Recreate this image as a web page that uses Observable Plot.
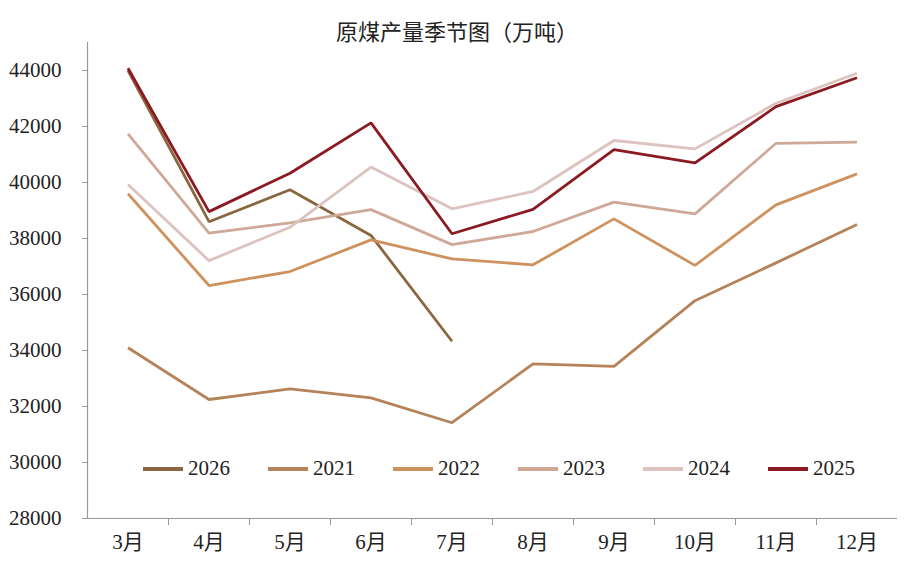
<!DOCTYPE html>
<html>
<head>
<meta charset="utf-8">
<script src="https://cdn.jsdelivr.net/npm/d3@7"></script>
<script src="https://cdn.jsdelivr.net/npm/@observablehq/plot@0.6"></script>
<style>
  body { margin: 0; background: #fff; }
  #wrap { position: relative; width: 914px; height: 581px; }
  #title { height: 40px; line-height: 40px; text-align: center; font-family: "Noto Sans CJK SC", sans-serif; font-size: 22px; color: #222; position: relative; top: 10px; }
  #legend { position: absolute; top: 456px; left: 143px; display: flex; font-family: "Liberation Serif", serif; font-size: 21px; color: #222; }
  .item { display: flex; align-items: center; width: 125px; }
  .sw { width: 40px; height: 4px; margin-right: 5px; }
</style>
</head>
<body>
<div id="wrap">
  <div id="title">原煤产量季节图（万吨）</div>
  <div id="chart"></div>
  <div id="legend"></div>
</div>
<script>
const months = ["3月","4月","5月","6月","7月","8月","9月","10月","11月","12月"];
const yTicks = [28000, 30000, 32000, 34000, 36000, 38000, 40000, 42000, 44000];
const seriesNames = ["2026", "2021", "2022", "2023", "2024", "2025"];
const seriesColors = ["#8b6741", "#b5835a", "#cd925e", "#cfa898", "#dcc3c0", "#8b1a22"];
const y2026 = [44000, 38600, 39740, 38110, 34330];
const y2021 = [34100, 32250, 32630, 32310, 31420, 33520, 33430, 35780, 37130, 38500];
const y2022 = [39600, 36320, 36820, 37950, 37270, 37060, 38700, 37040, 39200, 40310];
const y2023 = [41740, 38190, 38560, 39030, 37780, 38250, 39300, 38880, 41400, 41440];
const y2024 = [39930, 37210, 38400, 40550, 39060, 39680, 41500, 41200, 42830, 43900];
const y2025 = [44080, 38960, 40330, 42130, 38170, 39040, 41170, 40700, 42710, 43740];

const seriesValues = [y2026, y2021, y2022, y2023, y2024, y2025];
const data = [];
seriesNames.forEach((name, s) => {
  seriesValues[s].forEach((v, i) => data.push({series: name, i, value: v}));
});
const boundaries = d3.range(months.length - 1).map(i => i + 0.5);

const chart = Plot.plot({
  width: 914,
  height: 541,
  marginTop: 2,
  marginBottom: 63,
  marginLeft: 87,
  marginRight: 17,
  style: {fontFamily: "'Liberation Serif', 'Noto Sans CJK SC', serif", fontSize: "21px", color: "#222", background: "#fff"},
  x: {type: "linear", domain: [-0.5, months.length - 0.5], label: null},
  y: {domain: [28000, 45000], label: null},
  color: {domain: seriesNames, range: seriesColors},
  marks: [
    Plot.ruleY([28000], {stroke: "#999", strokeWidth: 1.2}),
    Plot.ruleX([-0.5], {stroke: "#999", strokeWidth: 1.2}),
    Plot.axisY({ticks: yTicks, tickSize: 5, tickPadding: 21, tickFormat: d => String(d), stroke: "#999", fill: "#222", fontSize: 21, label: null}),
    Plot.axisX({ticks: boundaries, tickSize: 7, tickFormat: () => "", stroke: "#999", label: null}),
    Plot.axisX({ticks: d3.range(months.length), tickSize: 0, tickPadding: 16, tickFormat: i => months[i], fill: "#222", fontSize: 21, label: null}),
    Plot.line(data, {x: "i", y: "value", z: "series", stroke: "series", strokeWidth: 2.8, strokeLinejoin: "miter", strokeLinecap: "butt"})
  ]
});
document.getElementById("chart").appendChild(chart);

const legend = document.getElementById("legend");
seriesNames.forEach((name, s) => {
  const item = document.createElement("div");
  item.className = "item";
  const sw = document.createElement("div");
  sw.className = "sw";
  sw.style.background = seriesColors[s];
  const t = document.createElement("span");
  t.textContent = name;
  item.appendChild(sw);
  item.appendChild(t);
  legend.appendChild(item);
});
</script>
</body>
</html>
